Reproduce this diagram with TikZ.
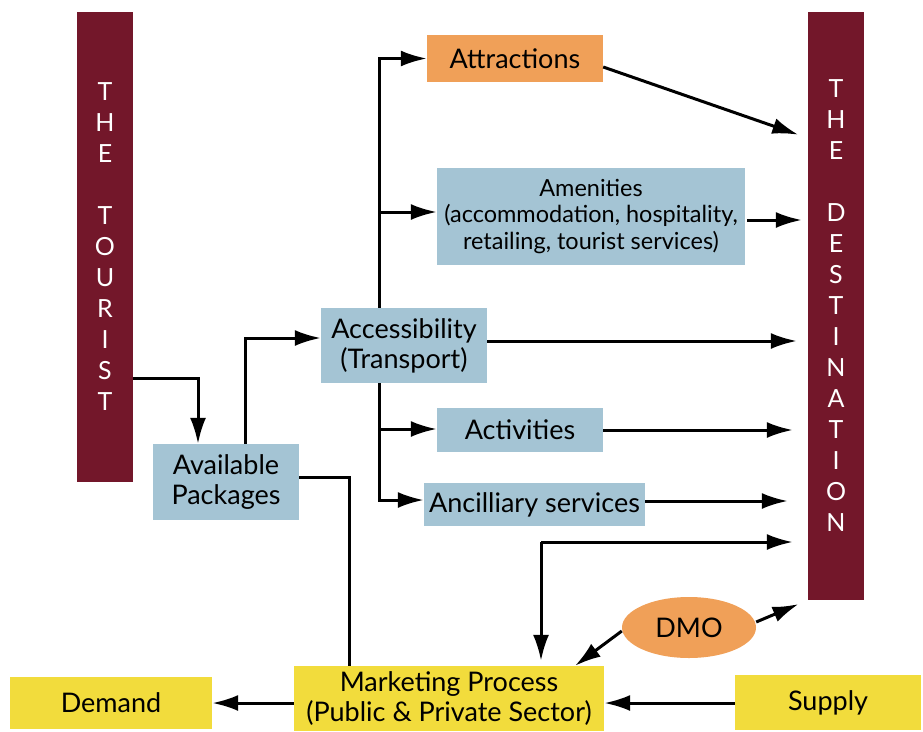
\documentclass[tikz,border=0pt]{standalone}
\usepackage{fontspec}
\setmainfont{Lato}
\usetikzlibrary{arrows.meta,shapes.geometric}
\definecolor{maroon}{HTML}{73172A}
\definecolor{peach}{HTML}{F0A058}
\definecolor{steel}{HTML}{A4C4D4}
\definecolor{mustard}{HTML}{F2DC3C}
\begin{document}
\begin{tikzpicture}[x=1pt,y=-1pt,
  box/.style={fill=steel,inner sep=0pt,align=center,font=\fontsize{27}{30}\selectfont},
  bar/.style={fill=maroon,text=white,minimum width=56pt,inner sep=0pt,align=center,font=\fontsize{25}{31}\selectfont},
  arr/.style={line width=3pt,-{Latex[length=26pt,width=16pt]}},
  link/.style={line width=3pt}]

      \useasboundingbox (0,0) rectangle (923,731);

      \node[bar,minimum height=470pt] (tourist) at (105,247) {T\\H\\E\\[31pt]T\\O\\U\\R\\I\\S\\T};
      \node[bar,minimum height=588pt] (dest) at (836,306) {T\\H\\E\\[31pt]D\\E\\S\\T\\I\\N\\A\\T\\I\\O\\N};

      \node[box,fill=peach,minimum width=176pt,minimum height=47pt] (attr) at (515,58.5) {Attractions};
      \node[box,minimum width=308pt,minimum height=97pt,font=\fontsize{23.5}{26.5}\selectfont] (amen) at (591,216.5) {Amenities\\(accommodation, hospitality,\\retailing, tourist services)};
      \node[box,minimum width=166pt,minimum height=75pt] (access) at (404,345.5) {Accessibility\\(Transport)};
      \node[box,minimum width=166pt,minimum height=44pt] (activ) at (520,430) {Activities};
      \node[box,minimum width=221pt,minimum height=43pt] (ancil) at (534.5,504.5) {Ancilliary services};
      \node[box,minimum width=146pt,minimum height=76pt] (avail) at (226,482) {Available\\Packages};
      \node[box,fill=mustard,minimum width=310pt,minimum height=65pt] (market) at (449,698.5) {Marketing Process\\(Public \& Private Sector)};
      \node[box,fill=mustard,minimum width=202pt,minimum height=52pt] (demand) at (111,703) {Demand};
      \node[box,fill=mustard,minimum width=186pt,minimum height=55pt] (supply) at (828,702.5) {Supply};
      \node[box,fill=peach,ellipse,minimum width=134pt,minimum height=61pt] (dmo) at (689,627.5) {DMO};

      \coordinate (up) at (379,212);
      \coordinate (down) at (379,429);
      \coordinate (mkt) at (541,542);

      \draw[arr] (tourist.east |- 0,378) -| ([xshift=-28pt]avail.north);
      \draw[arr] ([xshift=19pt]avail.north) |- (access.west |- 0,338);
      \draw[arr] ([xshift=-25pt]access.north) |- (attr.west);
      \draw[arr] (up) -- (amen.west |- up);
      \draw[arr] ([xshift=-25pt]access.south) |- (ancil.west |- 0,500);
      \draw[arr] (down) -- (activ.west |- down);

      \draw[arr,shorten >=10pt] (attr.east |- 0,67) -- (dest.west |- 0,138);
      \draw[arr,shorten >=6pt] ([xshift=2pt]amen.east |- 0,220) -- (dest.west |- 0,220);
      \draw[arr,shorten >=11pt] (access.east |- 0,341) -- (dest.west |- 0,341);
      \draw[arr,shorten >=15pt] (activ.east |- 0,430) -- (dest.west |- 0,430);
      \draw[arr,shorten >=20pt] (ancil.east |- 0,501) -- (dest.west |- 0,501);
      \draw[arr,shorten >=15pt] (mkt) -- (dest.west |- mkt);
      \draw[arr,shorten >=5pt] (mkt) -- (market.north -| mkt);

      \draw[link] (avail.east |- 0,477) -| (market.north -| 349,0);
      \draw[arr] (dmo.west |- 0,631) -- ([xshift=126pt]market.north);
      \draw[arr,shorten >=10pt] (dmo.east |- 0,622) -- (dest.south west);
      \draw[arr] (market.west |- 0,703) -- (demand.east |- 0,703);
      \draw[arr] (supply.west |- 0,703) -- (market.east |- 0,703);

    \end{tikzpicture}
\end{document}
